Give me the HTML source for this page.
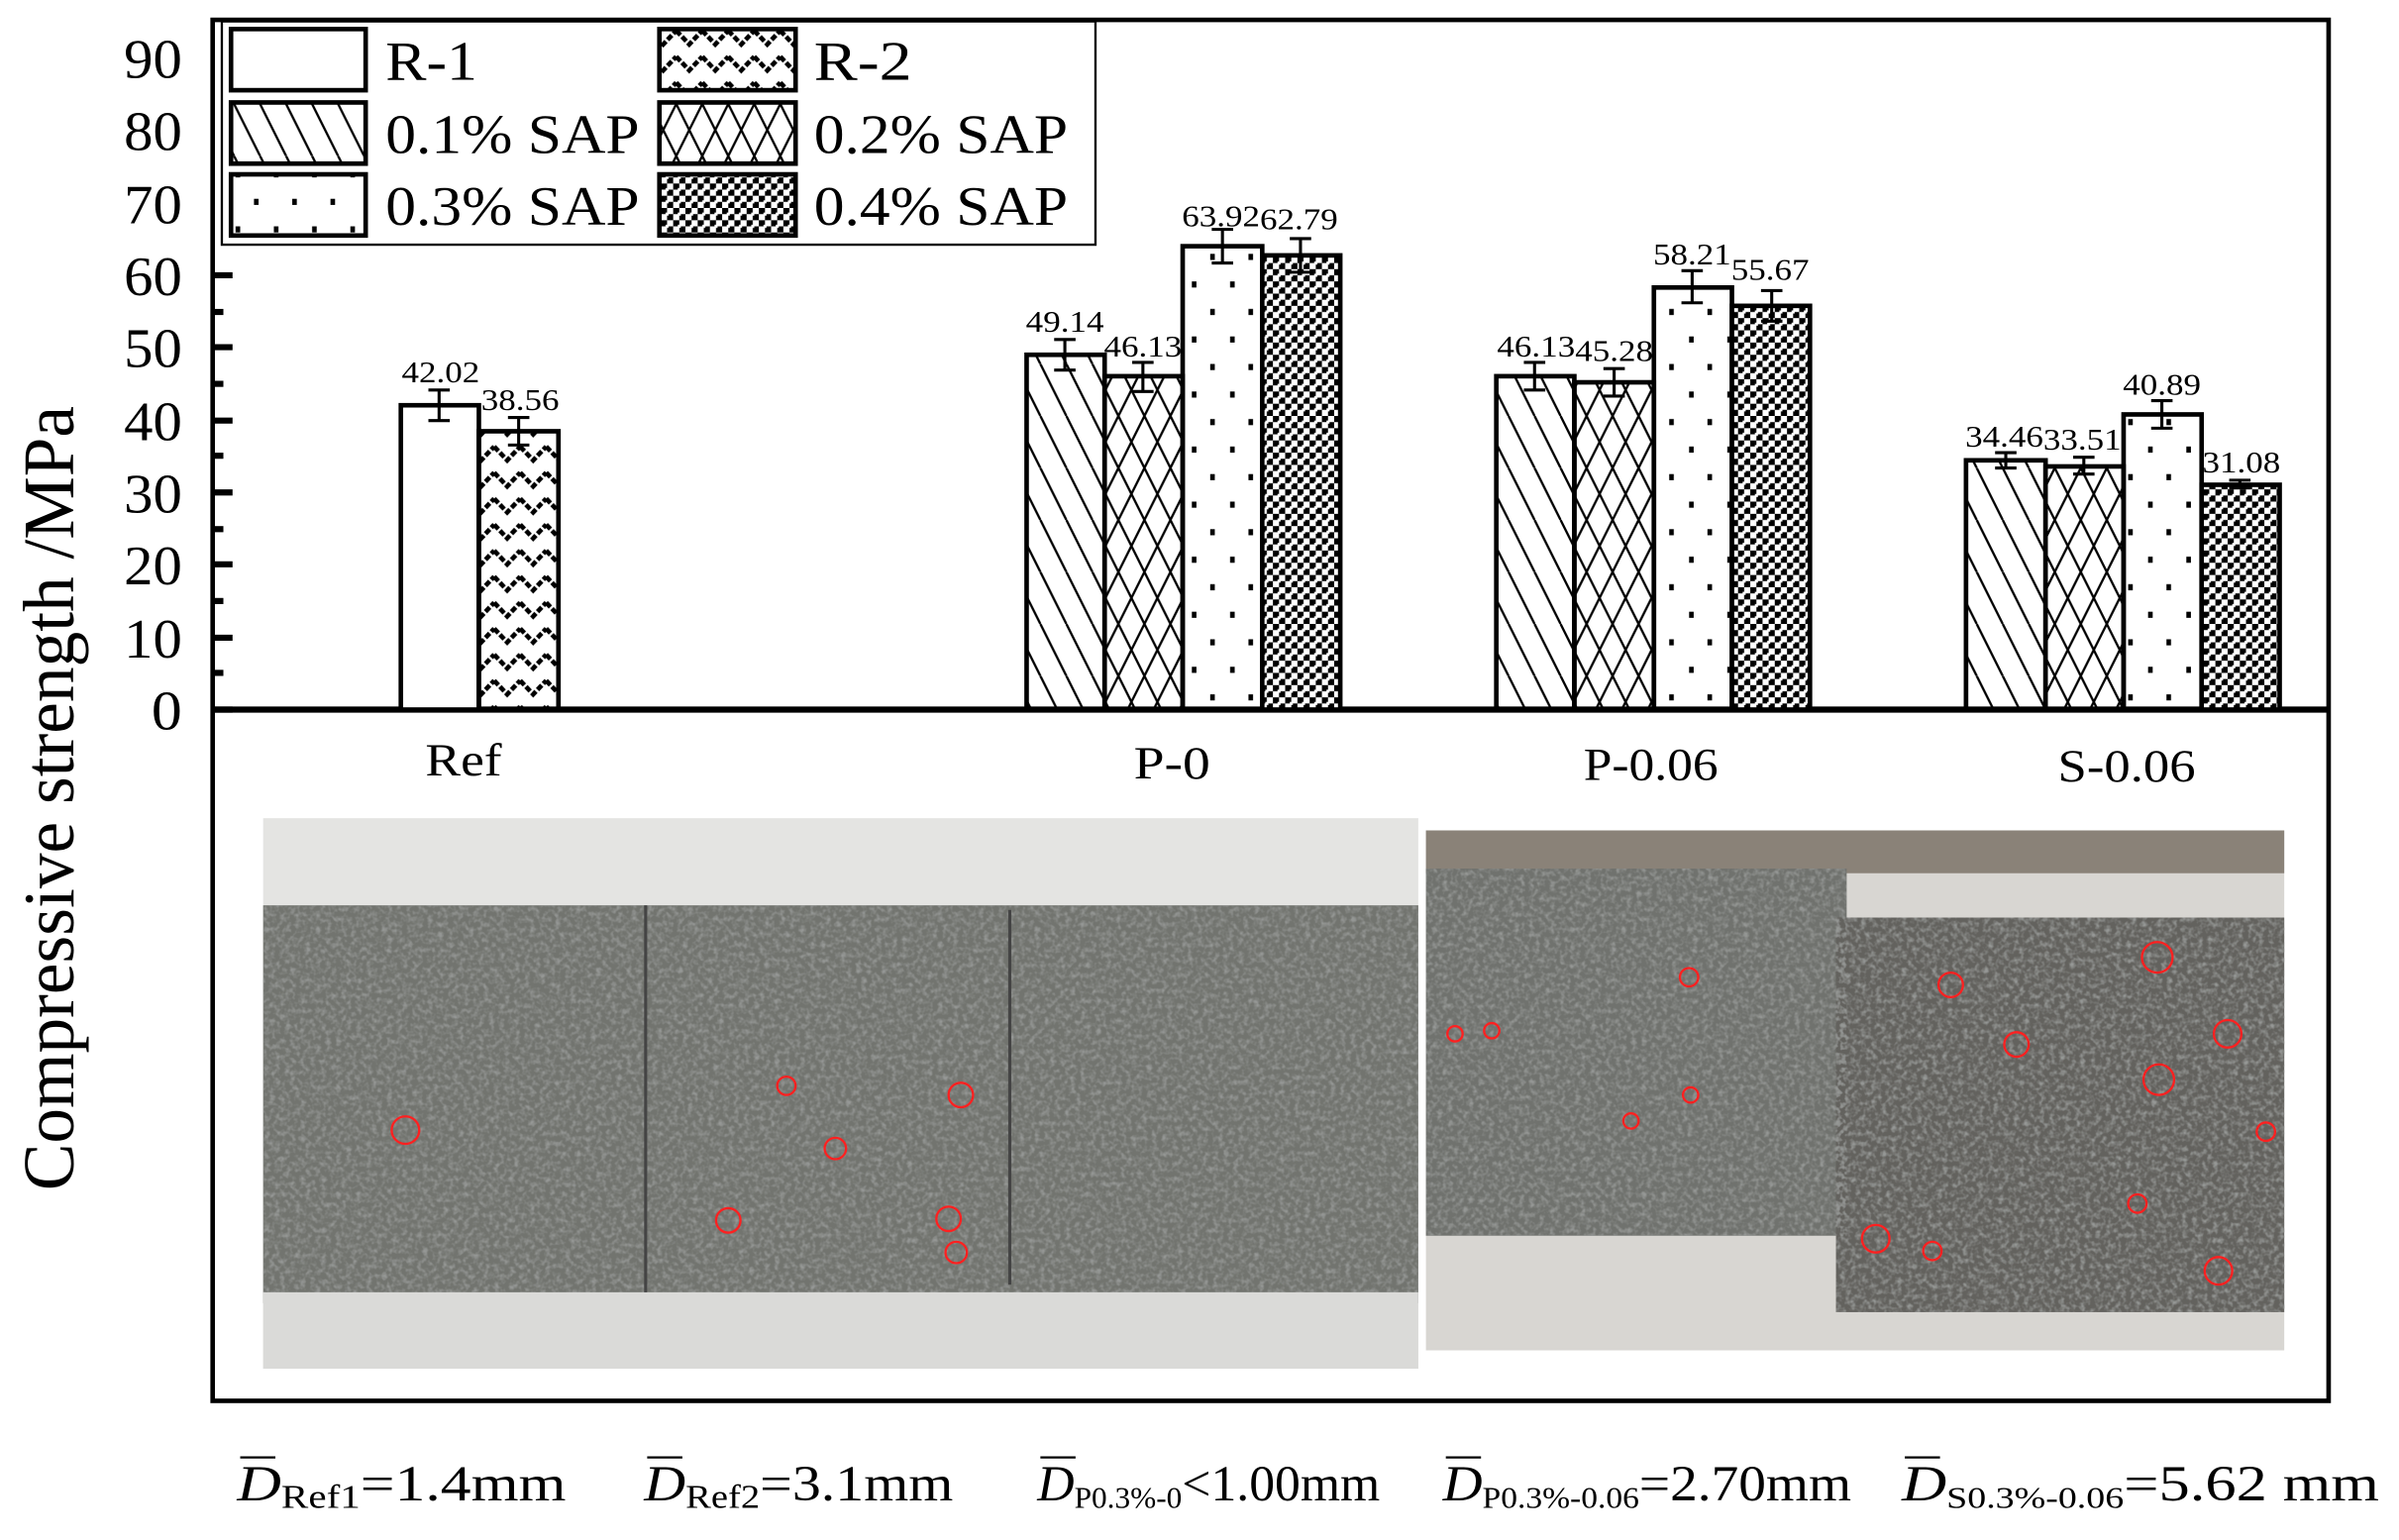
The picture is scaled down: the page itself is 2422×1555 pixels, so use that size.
<!DOCTYPE html>
<html><head><meta charset="utf-8"><style>html,body{margin:0;padding:0;background:#fff}svg{display:block}</style></head><body>
<svg width="2422" height="1555" viewBox="0 0 1568 1007" preserveAspectRatio="none" xmlns="http://www.w3.org/2000/svg" font-family="Liberation Serif, serif">
<defs>
<pattern id="diag" width="17" height="34" patternUnits="userSpaceOnUse"><path d="M-17,0 L0,34 M0,0 L17,34 M17,0 L34,34" stroke="#000" stroke-width="1.5"/></pattern>
<pattern id="cross" width="17" height="34" patternUnits="userSpaceOnUse"><path d="M-17,0 L0,34 M0,0 L17,34 M17,0 L34,34 M17,0 L0,34 M34,0 L17,34 M0,0 L-17,34" stroke="#000" stroke-width="1.5"/></pattern>
<pattern id="dots" width="25" height="36" patternUnits="userSpaceOnUse"><rect x="4" y="4" width="3" height="4" fill="#000"/><rect x="16" y="22" width="3" height="4" fill="#000"/></pattern>
<pattern id="check" width="8" height="8" patternUnits="userSpaceOnUse"><rect width="8" height="8" fill="#fff"/><rect width="4" height="4" fill="#000"/><rect x="4" y="4" width="4" height="4" fill="#000"/><rect x="3" y="3" width="2" height="2" fill="#fff"/></pattern>
<pattern id="zig" width="17" height="17" patternUnits="userSpaceOnUse"><path d="M0,3 L8.5,12 L17,3" stroke="#000" stroke-width="3" fill="none" stroke-dasharray="4,1.5"/></pattern>
<filter id="tex" x="0" y="0" width="100%" height="100%"><feTurbulence type="fractalNoise" baseFrequency="0.3" numOctaves="2" seed="3"/><feColorMatrix type="matrix" values="0 0 0 0 0.3  0 0 0 0 0.31  0 0 0 0 0.3  0 0 0 -2.4 1.4"/></filter>
</defs>
<rect x="139" y="13" width="1383" height="903" fill="none" stroke="#000" stroke-width="3"/>
<line x1="139" y1="464" x2="1522" y2="464" stroke="#000" stroke-width="4"/>
<g stroke="#000" stroke-width="4">
<line x1="139" y1="464" x2="152" y2="464"/><line x1="139" y1="417" x2="152" y2="417"/><line x1="139" y1="369" x2="152" y2="369"/><line x1="139" y1="322" x2="152" y2="322"/><line x1="139" y1="275" x2="152" y2="275"/><line x1="139" y1="227" x2="152" y2="227"/><line x1="139" y1="180" x2="152" y2="180"/>
<line x1="139" y1="440" x2="146" y2="440"/><line x1="139" y1="393" x2="146" y2="393"/><line x1="139" y1="346" x2="146" y2="346"/><line x1="139" y1="298" x2="146" y2="298"/><line x1="139" y1="251" x2="146" y2="251"/><line x1="139" y1="204" x2="146" y2="204"/>
</g>
<g font-size="36" text-anchor="end" fill="#000">
<text x="119" y="477" textLength="20" lengthAdjust="spacingAndGlyphs">0</text>
<text x="119" y="430" textLength="38" lengthAdjust="spacingAndGlyphs">10</text><text x="119" y="382" textLength="38" lengthAdjust="spacingAndGlyphs">20</text><text x="119" y="335" textLength="38" lengthAdjust="spacingAndGlyphs">30</text><text x="119" y="288" textLength="38" lengthAdjust="spacingAndGlyphs">40</text><text x="119" y="240" textLength="38" lengthAdjust="spacingAndGlyphs">50</text><text x="119" y="193" textLength="38" lengthAdjust="spacingAndGlyphs">60</text><text x="119" y="146" textLength="38" lengthAdjust="spacingAndGlyphs">70</text><text x="119" y="98" textLength="38" lengthAdjust="spacingAndGlyphs">80</text><text x="119" y="51" textLength="38" lengthAdjust="spacingAndGlyphs">90</text>
</g>
<text transform="translate(48,522) rotate(-90)" font-size="47" text-anchor="middle" textLength="513" lengthAdjust="spacingAndGlyphs">Compressive strength /MPa</text>
<rect x="145" y="14" width="571" height="146" fill="#fff" stroke="#000" stroke-width="1.5"/>
<g stroke="#000" stroke-width="3">
<rect x="151" y="19" width="88" height="40" fill="#fff"/><rect x="431" y="19" width="89" height="40" fill="url(#zig)"/>
<rect x="151" y="67" width="88" height="40" fill="url(#diag)"/><rect x="431" y="67" width="89" height="40" fill="url(#cross)"/>
<rect x="151" y="114" width="88" height="40" fill="url(#dots)"/><rect x="431" y="114" width="89" height="40" fill="url(#check)"/>
</g>
<g font-size="36"><text x="252" y="52" textLength="60" lengthAdjust="spacingAndGlyphs">R-1</text><text x="532" y="52" textLength="64" lengthAdjust="spacingAndGlyphs">R-2</text>
<text x="252" y="100" textLength="166" lengthAdjust="spacingAndGlyphs">0.1% SAP</text><text x="532" y="100" textLength="166" lengthAdjust="spacingAndGlyphs">0.2% SAP</text>
<text x="252" y="147" textLength="166" lengthAdjust="spacingAndGlyphs">0.3% SAP</text><text x="532" y="147" textLength="166" lengthAdjust="spacingAndGlyphs">0.4% SAP</text></g>
<g stroke="#000" stroke-width="3">
<rect x="262" y="265" width="51" height="199" fill="#fff"/><rect x="313" y="282" width="52" height="182" fill="url(#zig)"/>
<rect x="671" y="232" width="51" height="232" fill="url(#diag)"/><rect x="722" y="246" width="51" height="218" fill="url(#cross)"/><rect x="773" y="161" width="52" height="303" fill="url(#dots)"/><rect x="825" y="167" width="51" height="297" fill="url(#check)"/>
<rect x="978" y="246" width="51" height="218" fill="url(#diag)"/><rect x="1029" y="250" width="52" height="214" fill="url(#cross)"/><rect x="1081" y="188" width="51" height="276" fill="url(#dots)"/><rect x="1132" y="200" width="51" height="264" fill="url(#check)"/>
<rect x="1285" y="301" width="52" height="163" fill="url(#diag)"/><rect x="1337" y="305" width="51" height="159" fill="url(#cross)"/><rect x="1388" y="271" width="51" height="193" fill="url(#dots)"/><rect x="1439" y="317" width="51" height="147" fill="url(#check)"/>
</g>
<g stroke="#000" stroke-width="2" fill="none">
<path d="M287,255v20M280,255h14M280,275h14"/><path d="M339,273v18M332,273h14M332,291h14"/>
<path d="M696,222v20M689,222h14M689,242h14"/><path d="M747,237v19M740,237h14M740,256h14"/><path d="M799,150v22M792,150h14M792,172h14"/><path d="M850,156v22M843,156h14M843,178h14"/>
<path d="M1003,237v18M996,237h14M996,255h14"/><path d="M1055,241v18M1048,241h14M1048,259h14"/><path d="M1106,177v21M1099,177h14M1099,198h14"/><path d="M1158,190v20M1151,190h14M1151,210h14"/>
<path d="M1311,296v10M1304,296h14M1304,306h14"/><path d="M1362,299v11M1355,299h14M1355,310h14"/><path d="M1413,262v18M1406,262h14M1406,280h14"/><path d="M1464,314v5M1457,314h14M1457,319h14"/>
</g>
<g font-size="20" text-anchor="middle">
<text x="288" y="250" textLength="51" lengthAdjust="spacingAndGlyphs">42.02</text><text x="340" y="268" textLength="51" lengthAdjust="spacingAndGlyphs">38.56</text>
<text x="696" y="217" textLength="51" lengthAdjust="spacingAndGlyphs">49.14</text><text x="747" y="233" textLength="51" lengthAdjust="spacingAndGlyphs">46.13</text><text x="798" y="148" textLength="51" lengthAdjust="spacingAndGlyphs">63.92</text><text x="849" y="150" textLength="51" lengthAdjust="spacingAndGlyphs">62.79</text>
<text x="1004" y="233" textLength="51" lengthAdjust="spacingAndGlyphs">46.13</text><text x="1055" y="236" textLength="51" lengthAdjust="spacingAndGlyphs">45.28</text><text x="1106" y="173" textLength="51" lengthAdjust="spacingAndGlyphs">58.21</text><text x="1157" y="183" textLength="51" lengthAdjust="spacingAndGlyphs">55.67</text>
<text x="1310" y="292" textLength="51" lengthAdjust="spacingAndGlyphs">34.46</text><text x="1361" y="294" textLength="51" lengthAdjust="spacingAndGlyphs">33.51</text><text x="1413" y="258" textLength="51" lengthAdjust="spacingAndGlyphs">40.89</text><text x="1465" y="309" textLength="51" lengthAdjust="spacingAndGlyphs">31.08</text>
</g>
<g font-size="30" text-anchor="middle"><text x="303" y="507" textLength="50" lengthAdjust="spacingAndGlyphs">Ref</text><text x="766" y="509" textLength="50" lengthAdjust="spacingAndGlyphs">P-0</text><text x="1079" y="510" textLength="88" lengthAdjust="spacingAndGlyphs">P-0.06</text><text x="1390" y="511" textLength="90" lengthAdjust="spacingAndGlyphs">S-0.06</text></g>
<rect x="172" y="535" width="755" height="360" fill="#e4e4e2"/>
<rect x="172" y="592" width="755" height="260" fill="#72746f"/>
<rect x="172" y="592" width="755" height="260" filter="url(#tex)"/>
<rect x="172" y="845" width="755" height="50" fill="#dadad8"/>
<line x1="422" y1="592" x2="422" y2="845" stroke="#444" stroke-width="2"/><line x1="660" y1="595" x2="660" y2="840" stroke="#444" stroke-width="2"/>
<rect x="932" y="543" width="561" height="340" fill="#d8d6d2"/>
<rect x="932" y="543" width="561" height="28" fill="#8a8278"/>
<rect x="932" y="568" width="275" height="240" fill="#70726e"/><rect x="1200" y="600" width="293" height="258" fill="#63625e"/>
<rect x="932" y="568" width="275" height="240" filter="url(#tex)"/><rect x="1200" y="600" width="293" height="258" filter="url(#tex)"/>
<g fill="none" stroke="#ff2020" stroke-width="1.5">
<circle cx="265" cy="739" r="9"/><circle cx="514" cy="710" r="6"/><circle cx="546" cy="751" r="7"/><circle cx="628" cy="716" r="8"/><circle cx="476" cy="798" r="8"/><circle cx="620" cy="797" r="8"/><circle cx="625" cy="819" r="7"/>
<circle cx="951" cy="676" r="5"/><circle cx="975" cy="674" r="5"/><circle cx="1104" cy="639" r="6"/><circle cx="1066" cy="733" r="5"/><circle cx="1105" cy="716" r="5"/>
<circle cx="1275" cy="644" r="8"/><circle cx="1410" cy="626" r="10"/><circle cx="1318" cy="683" r="8"/><circle cx="1456" cy="676" r="9"/><circle cx="1411" cy="706" r="10"/><circle cx="1481" cy="740" r="6"/><circle cx="1397" cy="787" r="6"/><circle cx="1226" cy="810" r="9"/><circle cx="1263" cy="818" r="6"/><circle cx="1450" cy="831" r="9"/>
</g>
<g font-size="33">
<text x="155" y="981" textLength="215" lengthAdjust="spacingAndGlyphs"><tspan font-style="italic">D</tspan><tspan font-size="22" dy="5">Ref1</tspan><tspan dy="-5">=1.4mm</tspan></text>
<text x="421" y="981" textLength="202" lengthAdjust="spacingAndGlyphs"><tspan font-style="italic">D</tspan><tspan font-size="22" dy="5">Ref2</tspan><tspan dy="-5">=3.1mm</tspan></text>
<text x="678" y="981" textLength="224" lengthAdjust="spacingAndGlyphs"><tspan font-style="italic">D</tspan><tspan font-size="20" dy="5">P0.3%-0</tspan><tspan dy="-5">&lt;1.00mm</tspan></text>
<text x="943" y="981" textLength="267" lengthAdjust="spacingAndGlyphs"><tspan font-style="italic">D</tspan><tspan font-size="20" dy="5">P0.3%-0.06</tspan><tspan dy="-5">=2.70mm</tspan></text>
<text x="1243" y="981" textLength="312" lengthAdjust="spacingAndGlyphs"><tspan font-style="italic">D</tspan><tspan font-size="20" dy="5">S0.3%-0.06</tspan><tspan dy="-5">=5.62 mm</tspan></text></g>
<g stroke="#000" stroke-width="1.5"><line x1="157" y1="953" x2="180" y2="953"/><line x1="423" y1="953" x2="446" y2="953"/><line x1="680" y1="953" x2="703" y2="953"/><line x1="945" y1="953" x2="968" y2="953"/><line x1="1245" y1="953" x2="1268" y2="953"/></g>
</svg>
</body></html>
